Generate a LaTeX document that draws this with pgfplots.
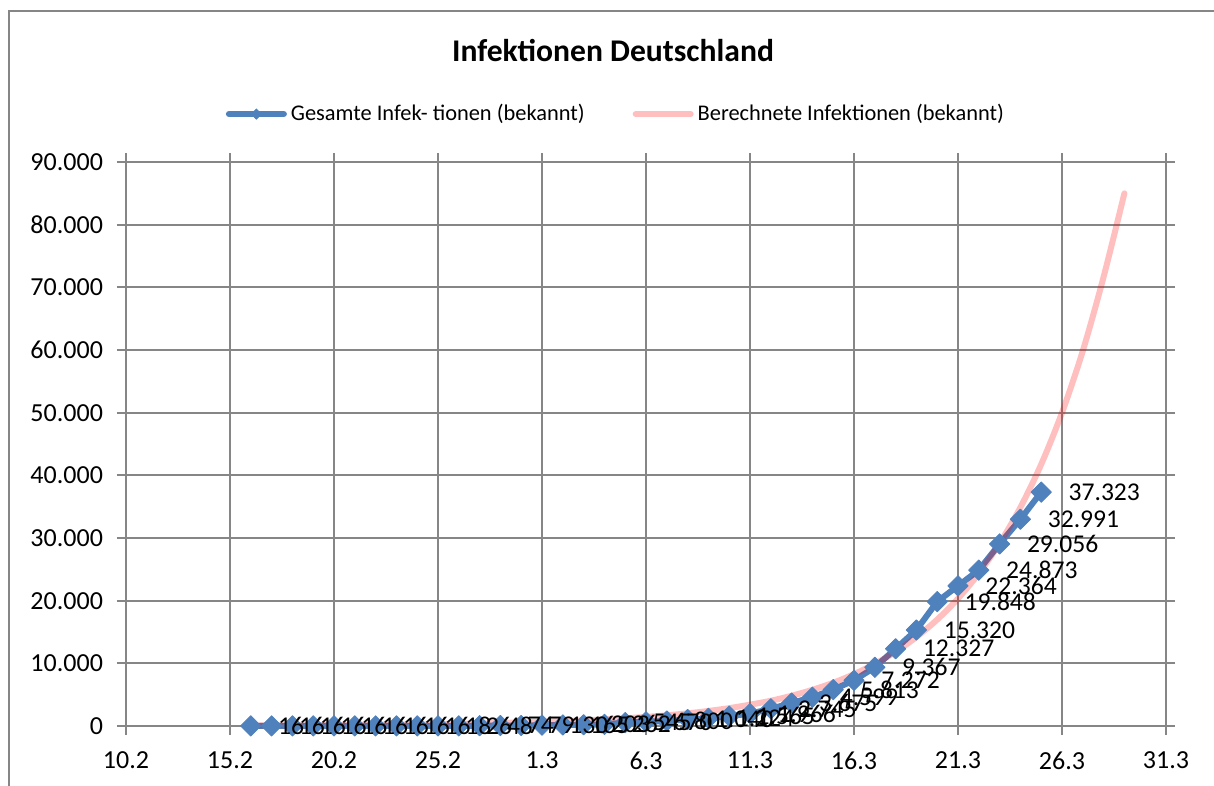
\documentclass[border=0pt]{standalone}
\usepackage{fontspec}
\setmainfont{Carlito}
\usepackage{pgfplots}
\usepackage{pgfplotstable}
\pgfplotsset{compat=1.18}
\definecolor{exblue}{RGB}{79,129,189}
\definecolor{gridgray}{RGB}{134,134,134}

% day index: 0 = 10.2.2020
\pgfplotstableread{
x y lab
6 16 16
7 16 16
8 16 16
9 16 16
10 16 16
11 16 16
12 16 16
13 16 16
14 16 16
15 18 18
16 26 26
17 48 48
18 74 74
19 79 79
20 130 130
21 165 165
22 203 203
23 262 262
24 545 545
25 670 670
26 800 800
27 1040 1.040
28 1224 1.224
29 1565 1.565
30 1966 1.966
31 2745 2.745
32 3675 3.675
33 4599 4.599
34 5813 5.813
35 7272 7.272
36 9367 9.367
37 12327 12.327
38 15320 15.320
39 19848 19.848
40 22364 22.364
41 24873 24.873
42 29056 29.056
43 32991 32.991
44 37323 37.323
}\gesamt

\pgfplotstableread{
x y
6 75
8 100
10 140
12 190
14 260
16 350
18 480
20 660
21 770
22 900
23 1050
24 1230
25 1450
26 1700
27 2020
28 2400
29 2850
30 3400
31 4030
32 4820
33 5770
34 6900
35 8270
36 9900
37 11850
38 14190
39 16980
40 20330
41 24340
42 29140
43 34880
44 41760
45 50000
46 59860
47 71670
48 85000
}\berechnet

\begin{document}
\begin{tikzpicture}
\useasboundingbox (-63pt,-30pt) rectangle (544pt,363pt);
\draw[gridgray, line width=0.75pt] (-58.5pt,-31pt) -- (-58.5pt,357.5pt) -- (545pt,357.5pt);
\begin{axis}[
  at={(0pt,0pt)}, anchor=south west,
  scale only axis, width=520pt, height=282pt,
  xmin=0, xmax=50, ymin=0, ymax=90000,
  xtick={0,5,...,50},
  xticklabels={10.2,15.2,20.2,25.2,1.3,6.3,11.3,16.3,21.3,26.3,31.3},
  ytick={0,10000,...,90000},
  yticklabels={0,10.000,20.000,30.000,40.000,50.000,60.000,70.000,80.000,90.000},
  scaled y ticks=false,
  grid=major,
  major grid style={gridgray, line width=0.9pt},
  axis line style={gridgray, line width=0.9pt},
  tick style={gridgray, line width=0.9pt},
  tick align=outside, major tick length=4.5pt,
  ticklabel style={font=\fontsize{13}{15}\selectfont, /pgf/number format/assume math mode=true},
  xticklabel style={yshift=-5pt},
  yticklabel style={xshift=-3.5pt},
  clip=false,
  legend style={at={(rel axis cs:0.472,1.085)}, anchor=center, draw=none, fill=none,
    font=\fontsize{11.2}{13}\selectfont, legend columns=2,
    /tikz/every even column/.append style={column sep=22pt}},
  legend cell align=left,
  legend image code/.code={\draw[mark repeat=2,mark phase=2,#1] plot coordinates {(0pt,0pt) (13.75pt,0pt) (27.5pt,0pt)};},
]
\addplot[exblue, line width=3pt, line join=round, line cap=round,
  mark=square*, mark size=3.6pt,
  mark options={rotate=45, solid, fill=exblue, draw=exblue, line width=0.4pt}, forget plot]
  table[x=x, y=y] {\gesamt};
\addplot[red, opacity=0.25, line width=3pt, line cap=round, line join=round, smooth, forget plot]
  table[x=x, y=y] {\berechnet};
\addplot[draw=none, no marks, forget plot, nodes near coords, point meta=explicit symbolic,
  every node near coord/.append style={anchor=west, xshift=12.5pt, font=\fontsize{12.8}{15}\selectfont, text=black, inner sep=1pt}]
  table[x=x, y=y, meta=lab] {\gesamt};
\addlegendimage{exblue, line width=3pt, line cap=round, mark=square*, mark size=1.8pt,
  mark options={rotate=45, solid, fill=exblue, draw=exblue, line width=0.4pt}}
\addlegendentry{Gesamte Infek- tionen (bekannt)}
\addlegendimage{red, opacity=0.25, line width=3pt, line cap=round}
\addlegendentry{Berechnete Infektionen (bekannt)}
\end{axis}
\node[font=\bfseries\fontsize{15.8}{18}\selectfont] at (243.5pt,337.5pt) {Infektionen Deutschland};
\end{tikzpicture}
\end{document}
